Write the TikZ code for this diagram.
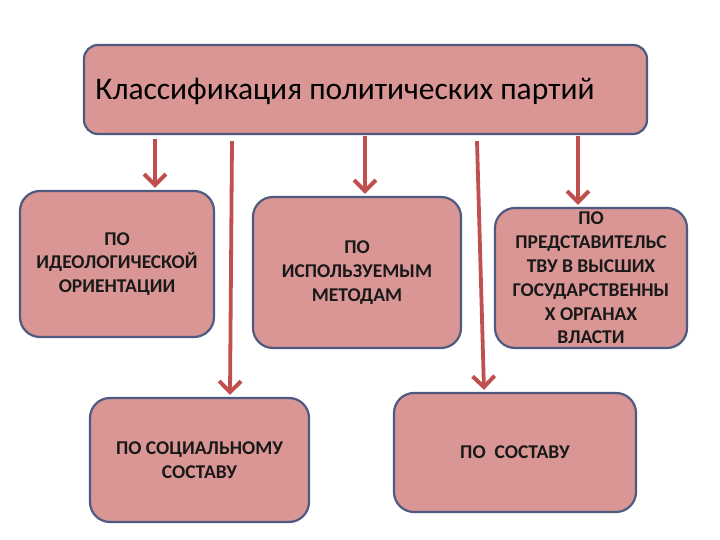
\documentclass[tikz,border=0pt]{standalone}
\usepackage{fontspec}
\setmainfont{Carlito}
\usetikzlibrary{arrows.meta,positioning,calc}
\definecolor{boxfill}{RGB}{217,150,148}
\definecolor{boxline}{RGB}{78,90,128}
\definecolor{arrred}{RGB}{192,80,77}
\begin{document}
\begin{tikzpicture}[x=1pt,y=1pt]

 \tikzset{
   head/.style={rectangle, rounded corners=14pt, draw=boxline, fill=boxfill, line width=2.2pt,
     minimum width=563pt, minimum height=89pt},
   kind/.style={rectangle, rounded corners=20pt, draw=boxline, fill=boxfill, line width=2.2pt,
     font=\fontsize{19.5}{23.8}\selectfont\bfseries, align=center, text=black!90, inner sep=1pt},
   arrow/.style={-{Straight Barb[length=11pt,width=22pt,line width=4pt]}, draw=arrred, line width=3.8pt}
 }

 \useasboundingbox (0,0) rectangle (720,540);

 % Vertical levels
 \def\levelA{450.5}   % header
 \def\levelB{270}     % upper row
 \def\levelC{84}      % lower row

 % Header
 \node[head] (top) at (365.5, \levelA) {};
 \node[anchor=west, font=\fontsize{31.5}{36}\selectfont] (title) at ([xshift=9pt,yshift=-2pt]top.west)
   {Классификация политических партий};

 % Upper row
 \node[kind, minimum width=194pt, minimum height=146pt] (ideo) at (117, 276)
   {ПО\\ИДЕОЛОГИЧЕСКОЙ\\ОРИЕНТАЦИИ};
 \node[kind, minimum width=208pt, minimum height=151pt] (meth) at (357, 267.5)
   {ПО\\ИСПОЛЬЗУЕМЫМ\\МЕТОДАМ};
 \node[kind, minimum width=192pt, minimum height=140pt] (repr) at (591, 262)
   {ПО\\ПРЕДСТАВИТЕЛЬС\\ТВУ В ВЫСШИХ\\ГОСУДАРСТВЕННЫ\\Х ОРГАНАХ\\ВЛАСТИ};

 % Lower row
 \node[kind, minimum width=219pt, minimum height=124pt] (soc) at (199.5, \levelC-4)
   {ПО СОЦИАЛЬНОМУ\\СОСТАВУ};
 \node[kind, minimum width=242pt, minimum height=119pt] (comp) at (515, \levelC+3.5)
   {ПО~~СОСТАВУ};

 % Arrows
 \draw[arrow] ([xshift=38pt,yshift=-4pt]ideo.north |- top.south) -- ([xshift=38pt,yshift=2pt]ideo.north);
 \draw[arrow] ([xshift=32.5pt,yshift=-6pt]soc.north |- top.south) -- ([xshift=30.5pt,yshift=2pt]soc.north);
 \draw[arrow] ([xshift=8pt,yshift=-1pt]meth.north |- top.south) -- ([xshift=8pt,yshift=2pt]meth.north);
 \draw[arrow] ([xshift=-38pt,yshift=-6pt]comp.north |- top.south) -- ([xshift=-31pt,yshift=2pt]comp.north);
 \draw[arrow] ([xshift=-13pt,yshift=-1pt]repr.north |- top.south) -- ([xshift=-13pt,yshift=2pt]repr.north);

\end{tikzpicture}
\end{document}
